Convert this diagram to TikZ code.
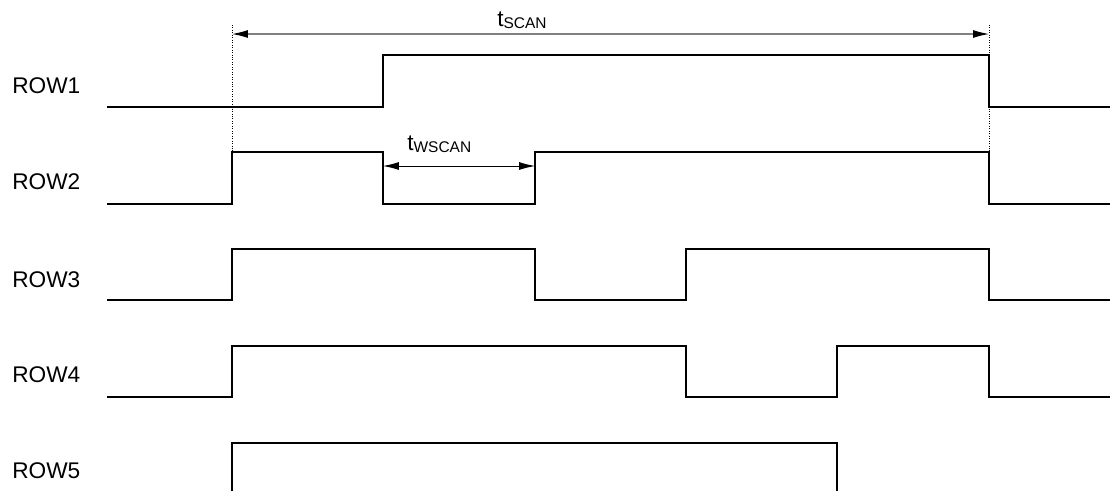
\documentclass[tikz,border=0pt]{standalone}
\usepackage{fontspec}
\setmainfont{Liberation Sans}
\usetikzlibrary{arrows.meta}

\newcommand{\sig}{\fontsize{12.9}{14}\selectfont}
\newcommand{\tsub}[1]{{\sig t}\raisebox{-0.25ex}{\fontsize{8.8}{10}\selectfont #1}}

\tikzset{
  wave/.style={line width=1.1pt, line join=miter},
  rowlabel/.style={anchor=west, inner sep=0pt, font=\sig},
  marker/.style={densely dotted, line width=0.4pt},
  span/.style={line width=0.6pt, {Latex[black,length=3.2mm,width=1.6mm]}-{Latex[black,length=3.2mm,width=1.6mm]}}
}

\begin{document}
\begin{tikzpicture}[x=0.02cm,y=-0.02cm]
\useasboundingbox (0,0) rectangle (1110,491);
% edge times
\coordinate (s) at (232,34); \coordinate (e) at (989,34);
\coordinate (ws) at (383,166); \coordinate (we) at (535,166);
% labels
\node[rowlabel] (r1) at (12,86) {ROW1};
\node[rowlabel] (r2) at (12,182) {ROW2};
\node[rowlabel] (r3) at (12,280) {ROW3};
\node[rowlabel] (r4) at (12,375) {ROW4};
\node[rowlabel] (r5) at (12,471) {ROW5};
% waveforms
\draw[wave] (107,107) -- (383,107) -- (383,55) -- (989,55) -- (989,107) -- (1110,107);
\draw[wave] (107,204) -- (232,204) -- (232,152) -- (383,152) -- (383,204) -- (535,204)
  -- (535,152) -- (989,152) -- (989,204) -- (1110,204);
\draw[wave] (107,300) -- (232,300) -- (232,249) -- (535,249) -- (535,300) -- (686,300)
  -- (686,249) -- (989,249) -- (989,300) -- (1110,300);
\draw[wave] (107,397) -- (232,397) -- (232,346) -- (686,346) -- (686,397) -- (837,397)
  -- (837,346) -- (989,346) -- (989,397) -- (1110,397);
\draw[wave] (232,491) -- (232,443) -- (837,443) -- (837,491);
% markers
\draw[marker] (232,25) -- (232,152);
\draw[marker] (989,25) -- (989,152);
\draw[span, gray] (s) -- (e);
\node[anchor=base west, inner sep=0pt] (tscan) at (497,26) {\tsub{SCAN}};
\draw[span, line width=0.5pt] (ws) -- (we);
\node[anchor=base west, inner sep=0pt] (twscan) at (407,150) {\tsub{WSCAN}};
\end{tikzpicture}
\end{document}
